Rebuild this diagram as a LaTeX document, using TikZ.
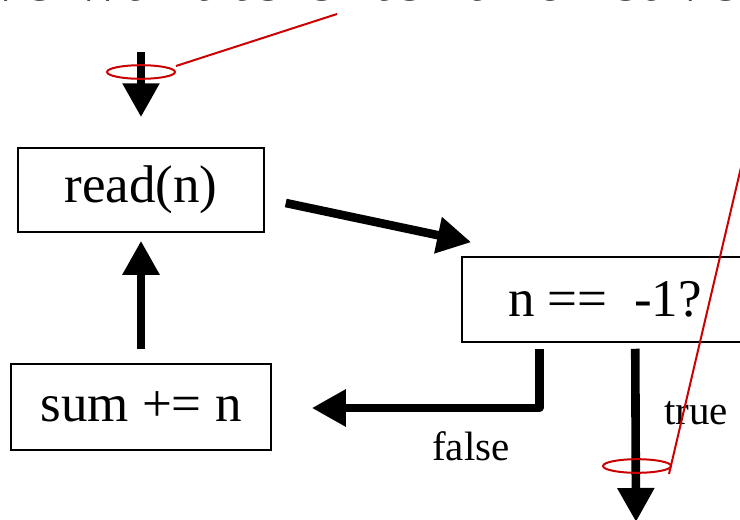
\documentclass[tikz,border=0pt]{standalone}
\usepackage{fontspec}
\setmainfont{Liberation Serif}
\usepackage{tikz}
\usetikzlibrary{arrows.meta,positioning,shapes.geometric,calc}
\definecolor{cInk}{HTML}{000000}
\definecolor{cMark}{HTML}{CC0000}
\tikzset{
  stepbox/.style={draw=cInk, line width=0.75pt, fill=white, inner sep=0pt,
                  font=\fontsize{26.5}{30}\selectfont},
  flow/.style={-{Triangle[length=17pt, width=17.5pt]}, line width=4.3pt, draw=cInk},
  lbl/.style={font=\fontsize{20.5}{24}\selectfont, inner sep=0pt},
  ring/.style={ellipse, draw=cMark, line width=1pt, inner sep=0pt,
               minimum width=34pt, minimum height=6.8pt},
  pointer/.style={draw=cMark, line width=1pt},
}
\begin{document}
\begin{tikzpicture}[x=0.5pt, y=-0.5pt]
  \useasboundingbox (0,0) rectangle (740,520);
  \clip (0,0) rectangle (740,520);

  % heading text, cut off at the top edge
  \node[anchor=base west, inner sep=0pt, font=\fontsize{36}{40}\selectfont] (head) at (-30,0.8) {we want to enter and leave};

  \node[stepbox, minimum width=123pt, minimum height=42pt] (read) at (141,190) {read(n)};
  \node[stepbox, minimum width=143pt, minimum height=42.5pt] (cond) at (605,299.5) {n ==~ -1?};
  \node[stepbox, minimum width=130pt, minimum height=43pt] (sum) at (141,407) {sum += n};

  \coordinate (start) at (141,52);
  \coordinate (exit) at (636,522);

  \draw[flow] (start) -- ($(read.north)+(0,-30)$);
  \draw[flow] ($(read.east)+(21,13)$) -- ($(cond.north west)+(10,-14)$);
  \draw[flow] ($(sum.north)+(0,-14)$) -- ($(read.south)+(0,8)$);
  \draw[flow, line join=round] ($(cond.south west)+(78,6)$) |- ($(sum.east)+(40,1)$);
  \draw[flow] ($(cond.south west)+(174,6)$) -- (exit);

  \node[lbl] (no) at (471,446) {false};
  \node[lbl] (yes) at (696,413) {true};

  % red call-outs
  \node[ring] (m1) at (141,72) {};
  \node[ring] (m2) at (637,466) {};
  \coordinate (p1) at (337,14);
  \coordinate (p2) at (785,-20);
  \draw[pointer] ($(m1.east)+(0,-6)$) -- (p1);
  \draw[pointer] ($(m2.east)+(-3,8)$) -- (p2);
\end{tikzpicture}
\end{document}
